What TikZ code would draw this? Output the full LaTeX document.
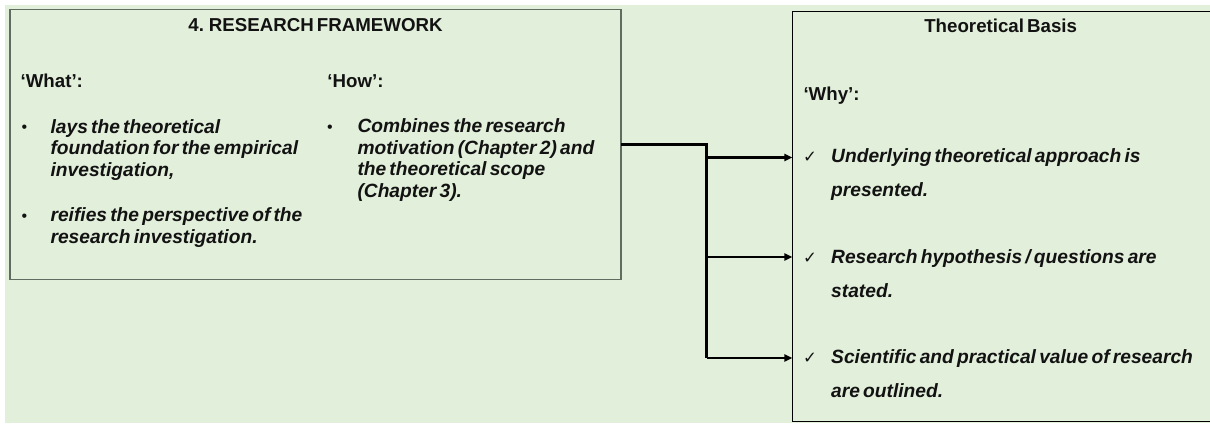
\documentclass[tikz,border=0pt]{standalone}
\usepackage{fontspec}
\setmainfont{Liberation Sans}[WordSpace=0.6]
\newfontfamily\symfont{DejaVu Sans}
\usetikzlibrary{arrows.meta}

\definecolor{panelgreen}{RGB}{226,239,218}
\definecolor{frameline}{RGB}{95,108,95}
\definecolor{ink}{RGB}{18,18,18}

\tikzset{
  txt/.style={inner sep=0pt, outer sep=0pt, text=ink},
  heading/.style={txt, font=\fontsize{18.7}{21.7}\selectfont\bfseries},
  % multi-line items are anchored at the baseline of their last line
  item/.style={txt, anchor=base west, align=left,
    font=\fontsize{19.2}{21.7}\selectfont\bfseries\itshape},
  wideitem/.style={item, font=\fontsize{19.2}{34}\selectfont\bfseries\itshape},
  bulletmark/.style={txt, anchor=base, font=\fontsize{16}{16}\selectfont},
  tick/.style={txt, anchor=base west, font=\symfont\fontsize{16.5}{16.5}\selectfont},
  panel/.style={line width=1.3pt, inner sep=0pt, outer sep=0pt, anchor=north west},
  link/.style={line width=2.6pt, draw=black},
  tip/.style={link, -{Triangle[length=8pt,width=7pt]}},
}

\begin{document}
\begin{tikzpicture}[x=1pt, y=-1pt]
  \useasboundingbox (0,0) rectangle (1210,423);
  \fill[white] (0,0) rectangle (1210,423);
  \fill[panelgreen] (5,5) rectangle (1210,423);

  % framework panel
  \node[panel, draw=frameline, minimum width=611, minimum height=270] (fw) at (10,9.3) {};
  \node[heading, anchor=base] (fwtitle) at (315.5,31.7) {4. RESEARCH FRAMEWORK};
  \node[heading, anchor=base west] (what) at (20.6,87.3) {‘What’:};
  \node[heading, anchor=base west] (how) at (327.4,87.3) {‘How’:};

  \node[bulletmark] (b1) at (24.5,132.7) {•};
  \node[item] (what1) at (50.6,176.4) {lays the theoretical\\foundation for the empirical\\investigation,};
  \node[bulletmark] (b2) at (24.5,221.7) {•};
  \node[item] (what2) at (50.6,243.6) {reifies the perspective of the\\research investigation.};
  \node[bulletmark] (b3) at (330,132.7) {•};
  \node[item] (how1) at (357.5,197.6) {Combines the research\\motivation (Chapter 2) and\\the theoretical scope\\(Chapter 3).};

  % theoretical basis panel
  \node[panel, draw=black, minimum width=425, minimum height=410] (tb) at (792.4,11.7) {};
  \node[heading, anchor=base] (tbtitle) at (1000.7,32.3) {Theoretical Basis};
  \node[heading, anchor=base west] (why) at (803.5,100) {‘Why’:};

  \node[tick] (t1) at (803,162.3) {✓};
  \node[wideitem] (why1) at (831.2,196.3) {Underlying theoretical approach is\\presented.};
  \node[tick] (t2) at (803,263.3) {✓};
  \node[wideitem] (why2) at (831.2,297.3) {Research hypothesis / questions are\\stated.};
  \node[tick] (t3) at (803,363.3) {✓};
  \node[wideitem] (why3) at (831.2,397.3) {Scientific and practical value of research\\are outlined.};

  % connectors
  \coordinate (split) at (706.6,144.3);
  \coordinate (j1) at (706.6,157.5);
  \coordinate (j2) at (706.6,257);
  \coordinate (j3) at (706.6,358);
  \draw[link] (fw.east) -- (split) -- (j3);
  \draw[tip] (j1) -- (j1 -| tb.west);
  \draw[tip] (j2) -- (j2 -| tb.west);
  \draw[tip] (j3) -- (j3 -| tb.west);
\end{tikzpicture}
\end{document}
